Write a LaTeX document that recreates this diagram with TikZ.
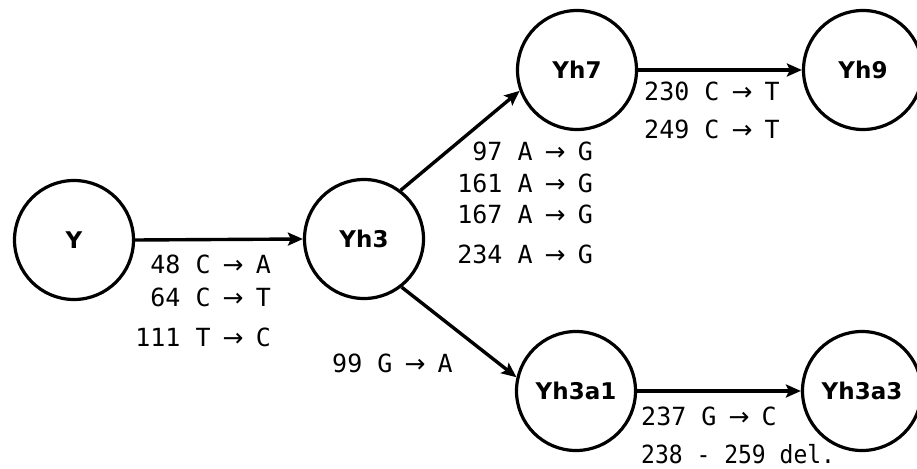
\documentclass[tikz,border=0pt]{standalone}
\usepackage{fontspec}
\usepackage{graphicx}
\newfontfamily\labfont{DejaVu Sans Mono}
\newfontfamily\nodefont{DejaVu Sans}
\newfontfamily\arrfont{DejaVu Sans}[FakeStretch=1.0]
\usetikzlibrary{arrows.meta}
\newcommand{\mutarr}{\makebox[0.602em][c]{\arrfont →}}
\begin{document}
\begin{tikzpicture}[x=1pt,y=-1pt,
  state/.style={circle,draw,line width=3.2pt,minimum size=119pt,inner sep=0pt,
    font=\nodefont\bfseries\fontsize{23}{28}\selectfont},
  edge/.style={line width=3.4pt,-{Stealth[length=15pt,width=13pt,inset=3pt]}},
  mut/.style={inner sep=0pt,font=\labfont\fontsize{25}{30}\selectfont}]
\useasboundingbox[fill=white] (0,0) rectangle (917,468);
\node[state] (Y) at (74,240) {Y};
\node[state] (Yh3) at (364,239) {Yh3};
\node[state] (Yh7) at (577,70) {Yh7};
\node[state] (Yh9) at (863,70) {Yh9};
\node[state] (Yh3a1) at (576,391) {Yh3a1};
\node[state] (Yh3a3) at (862,391) {Yh3a3};
\draw[edge] (Y.east) -- (Yh3.west);
\draw[edge] (Yh3.53) -- (Yh7.200);
\draw[edge] (Yh3.-52) -- (Yh3a1.167);
\draw[edge] (Yh7.east) -- (Yh9.west);
\draw[edge] (Yh3a1.east) -- (Yh3a3.west);
% labels Y -> Yh3
\node[mut,anchor=base east] (m1) at (271,273) {48 C \mutarr{} A};
\node[mut,anchor=base east] (m2) at (271,306) {64 C \mutarr{} T};
\node[mut,anchor=base east] (m3) at (271,346) {111 T \mutarr{} C};
% labels Yh3 -> Yh7
\node[mut,anchor=base east] (m4) at (593,160) {97 A \mutarr{} G};
\node[mut,anchor=base east] (m5) at (593,192) {161 A \mutarr{} G};
\node[mut,anchor=base east] (m6) at (593,223) {167 A \mutarr{} G};
\node[mut,anchor=base east] (m7) at (593,263) {234 A \mutarr{} G};
% labels Yh7 -> Yh9
\node[mut,anchor=base west] (m8) at (644,100) {230 C \mutarr{} T};
\node[mut,anchor=base west] (m9) at (644,138) {249 C \mutarr{} T};
% label Yh3 -> Yh3a1
\node[mut,anchor=base west] (m10) at (332,372) {99 G \mutarr{} A};
% labels Yh3a1 -> Yh3a3
\node[mut,anchor=base west] (m11) at (641,425) {237 G \mutarr{} C};
\node[mut,anchor=base west] (m12) at (641,463) {\scalebox{0.92}[1]{238 - 259 del.}};
\end{tikzpicture}
\end{document}
